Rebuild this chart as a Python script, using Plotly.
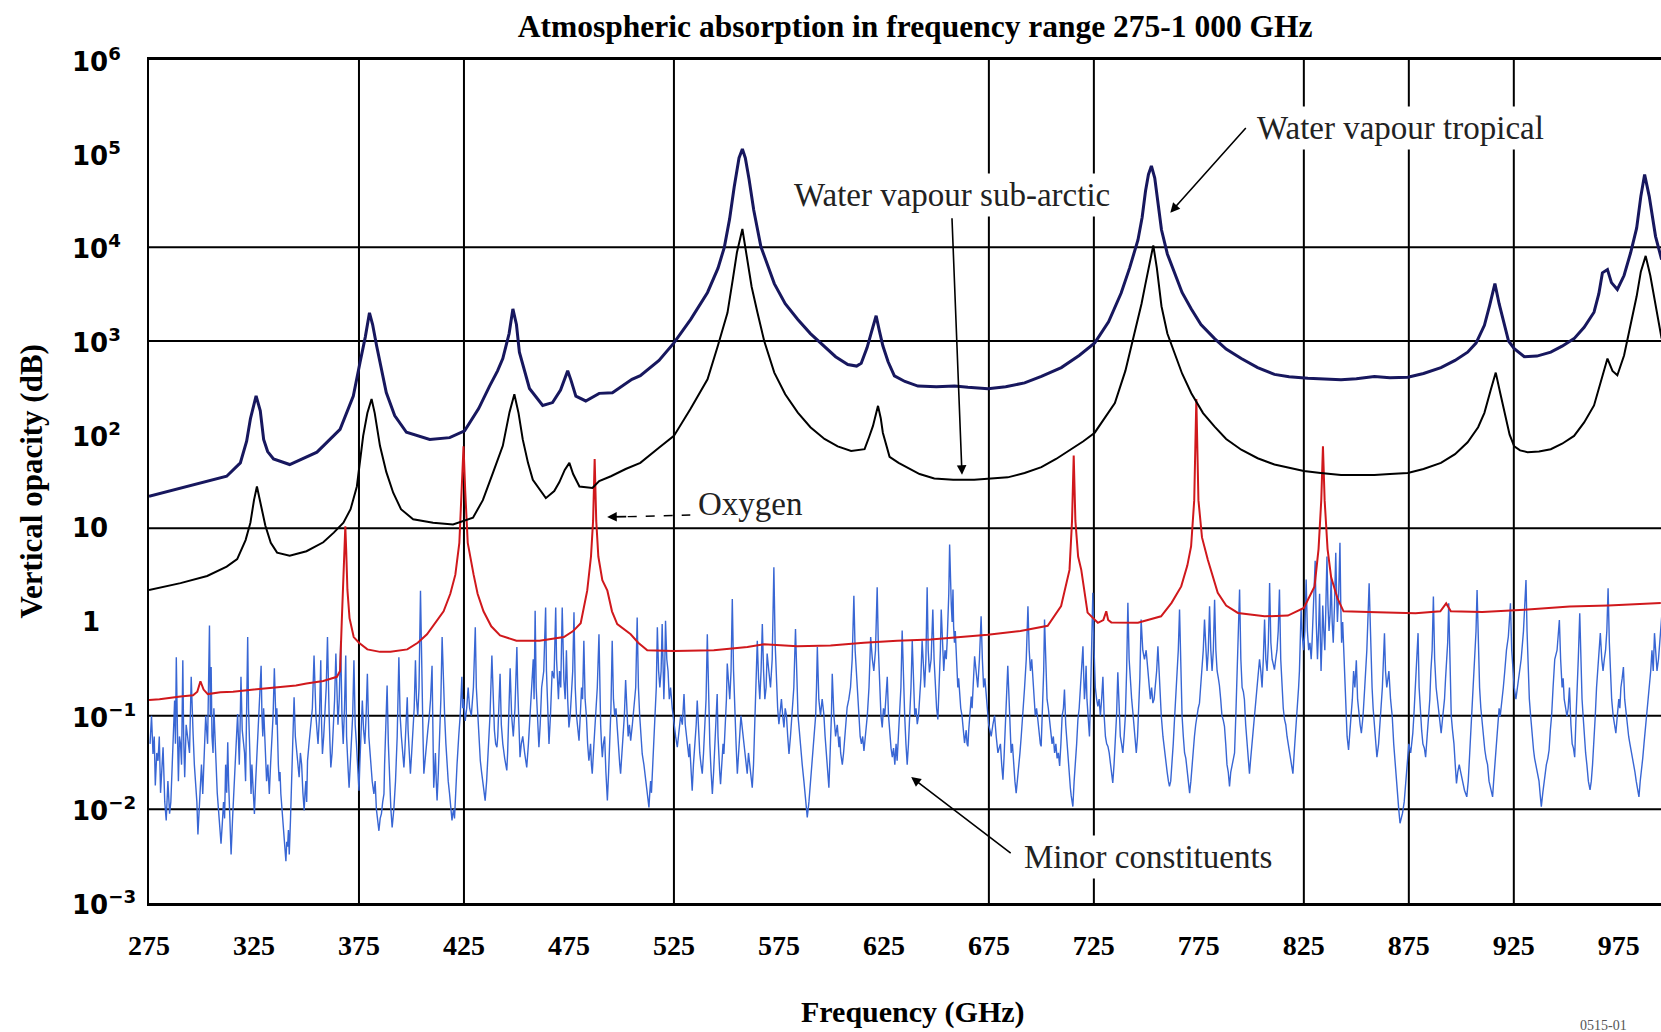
import plotly.graph_objects as go
import math

# ---------------- data ----------------
X_TICKS = [275, 325, 375, 425, 475, 525, 575, 625, 675, 725, 775, 825, 875, 925, 975]
Y_TICKS = [1e-3, 1e-2, 1e-1, 1, 10, 1e2, 1e3, 1e4, 1e5, 1e6]
Y_TICK_TEXT = ["10<sup>−3</sup>", "10<sup>−2</sup>", "10<sup>−1</sup>", "1", "10",
               "10<sup>2</sup>", "10<sup>3</sup>", "10<sup>4</sup>", "10<sup>5</sup>", "10<sup>6</sup>"]
X_GRID = [375, 425, 525, 675, 725, 825, 875, 925]
Y_GRID = [1e4, 1e3, 10, 1e-1, 1e-2]

TROPICAL = [
    (275, 22), (290, 27), (300, 31), (312, 36), (318.5, 50), (321.5, 85), (323.3, 148), (326, 260),
    (328, 180), (329.6, 89), (331.5, 66), (334.3, 55), (342, 48), (355, 65), (366, 114), (372.3, 259),
    (375.5, 590), (378, 1100), (380, 2000), (381.5, 1500), (383.4, 890), (388, 282), (392, 160),
    (397.6, 106), (408.7, 89), (418.2, 93), (425.3, 110), (432, 190), (437.2, 330), (441, 480),
    (443.5, 650), (446.5, 1200), (448.3, 2200), (450, 1500), (451.4, 760), (456.2, 311), (462.5, 205),
    (467.2, 220), (471, 300), (474.4, 480), (476, 380), (478.3, 258), (483, 229), (489.4, 276),
    (495.7, 280), (505, 390), (509, 427), (517.9, 620), (525, 955), (533, 1700), (541, 3300),
    (546, 6000), (549, 10000), (551.5, 20000), (553.7, 44000), (556, 90000), (557.6, 112000),
    (559, 90000), (560.8, 53000), (563, 25000), (566.4, 10200), (572.8, 4100), (578, 2500),
    (584, 1700), (590, 1200), (596.7, 880), (602, 680), (607.8, 560), (612, 540), (614.2, 580),
    (617, 850), (619, 1230), (621.3, 1860), (622.8, 1300), (624.5, 890), (627, 600), (630, 425),
    (635, 370), (641.2, 330), (650, 325), (658.7, 330), (665, 320), (674.6, 310), (683, 325),
    (692, 357), (700, 420), (709.5, 520), (718, 700), (725.4, 955), (732, 1600), (738, 3250),
    (742, 6000), (746, 12000), (748, 21000), (749.6, 40000), (751, 60000), (752.4, 74000),
    (754, 55000), (755.5, 30000), (757.2, 15400), (760, 8500), (763.5, 5350), (767, 3300),
    (771.4, 2200), (776, 1500), (782.5, 1060), (788, 820), (795.2, 650), (803, 520), (811, 440),
    (818, 415), (826.9, 400), (835, 392), (842.7, 385), (850, 395), (858.6, 417), (866, 405),
    (874.5, 410), (882, 450), (890.3, 520), (897, 620), (903, 760), (907, 950), (911, 1470),
    (913.5, 2400), (916, 4100), (918, 2500), (920.4, 1470), (922.5, 1000), (925.2, 830), (930, 680),
    (936, 690), (942.6, 760), (948, 880), (953.7, 1060), (958.5, 1400), (963.2, 2030), (965.5, 3200),
    (967.2, 5350), (969.6, 5800), (971.5, 4200), (974.3, 3550), (977.5, 5000), (980.6, 8700),
    (983.5, 16000), (985.5, 35000), (987.3, 60000), (989.5, 35000), (992.5, 13100), (995.4, 7400),
]

SUBARCTIC = [
    (275, 2.2), (290, 2.6), (302.7, 3.1), (312, 3.9), (317, 4.7), (321, 7.5), (323.3, 11.5), (325, 20),
    (326.4, 28), (328, 19), (330.4, 10.7), (333, 7), (336, 5.5), (342, 5.1), (350, 5.7), (358, 7.1),
    (363, 9), (367.6, 11.5), (371, 16), (374, 28), (377, 97), (379, 170), (381, 240), (382.5, 170),
    (385, 76), (388, 40), (391.3, 24), (395, 16), (400.8, 12.5), (410.3, 11.5), (419.8, 11),
    (429.3, 13), (434, 20), (438.8, 39), (443.5, 76), (446.7, 174), (449, 270), (451, 170), (453, 89),
    (455.5, 50), (457.8, 33), (464, 21), (468, 25), (470.4, 31), (473, 42), (475.2, 50), (477, 38),
    (480, 28), (486.2, 27), (489.4, 32), (495, 36), (502, 43), (509, 50), (518, 73), (525, 97),
    (533, 190), (541, 390), (546, 900), (550.5, 2000), (553, 4500), (555, 8800), (557.6, 15700),
    (560, 7400), (562, 3800), (564.8, 2000), (568, 1000), (572.8, 460), (578, 270), (584, 172),
    (590, 120), (596.7, 90), (603, 75), (609.4, 67), (615.8, 70), (618, 95), (619.8, 124),
    (622.2, 203), (623.5, 150), (624.5, 105), (627.7, 58), (632, 50), (636.5, 44), (642, 38),
    (649, 34), (658, 33), (668, 33), (676, 34), (684, 35), (692, 39), (700, 45), (707, 55), (714, 69),
    (720, 85), (725.4, 105), (730, 150), (735, 218), (740, 480), (744.6, 1240), (747.7, 2500),
    (749.4, 3900), (751.5, 7000), (753.3, 10500), (755, 6000), (757.2, 2350), (760, 1200),
    (763.5, 740), (767, 450), (771.4, 277), (777, 170), (782.5, 122), (788, 90), (795.2, 69),
    (803, 56), (811, 48), (818, 44), (825, 41), (833, 39), (842.7, 37), (850, 37), (858.6, 37),
    (866, 38), (874.5, 39), (882, 43), (890.3, 50), (897, 62), (903, 83), (908, 120), (911, 171),
    (914, 300), (916.4, 460), (918.5, 280), (921.2, 145), (923, 100), (925.2, 75), (928, 68),
    (931.5, 65), (937, 66), (942.6, 70), (948, 80), (953.7, 97), (958.5, 135), (963.2, 205),
    (966, 350), (969.6, 650), (972, 480), (974.3, 430), (977.5, 700), (980.6, 1470), (983.5, 3000),
    (985.5, 5500), (987.8, 8100), (990, 5000), (992.5, 2350), (995.4, 1060),
]

OXYGEN = [
    (275, 0.147), (280, 0.15), (290, 0.16), (296, 0.165), (298, 0.18), (299.5, 0.233), (301, 0.19),
    (303, 0.17), (309, 0.178), (315, 0.18), (325, 0.19), (335, 0.2), (345, 0.21), (350, 0.22),
    (358, 0.235), (364.5, 0.26), (366, 0.3), (366.8, 1.0), (367.6, 2.5), (368.1, 6.0), (368.5, 10.5),
    (368.9, 6.0), (369.5, 2.2), (370.5, 1.1), (372.5, 0.69), (375, 0.6), (379, 0.51), (385, 0.48),
    (390, 0.48), (398, 0.51), (403, 0.6), (407.4, 0.74), (411, 0.95), (415.3, 1.3), (418.5, 2.0),
    (420.9, 3.2), (422.8, 7.0), (424.0, 25), (424.8, 75), (425.6, 25), (426.8, 7.0), (429.6, 3.2),
    (431.5, 2.0), (434.3, 1.3), (438, 0.9), (442.2, 0.72), (450, 0.63), (461, 0.63), (472.6, 0.69),
    (477, 0.8), (480.6, 0.97), (483.7, 2.16), (485.5, 5.0), (486.5, 12), (487.25, 55), (488.0, 12),
    (489, 5.0), (490.9, 2.8), (493.3, 2.16), (495.5, 1.3), (498, 0.95), (504.4, 0.74), (508, 0.6),
    (512.3, 0.5), (525, 0.49), (544, 0.5), (560, 0.54), (567.9, 0.58), (583.7, 0.55), (599.6, 0.56),
    (615.5, 0.6), (631.3, 0.63), (647.2, 0.65), (674.5, 0.73), (690, 0.8), (703, 0.91), (709.4, 1.48),
    (713.4, 3.6), (714.6, 12), (715.4, 60), (716.2, 12), (717.5, 5), (719, 3.6), (722, 1.26),
    (726.9, 0.98), (729.5, 1.05), (730.9, 1.3), (731.8, 1.05), (733.3, 0.99), (746, 0.98), (757, 1.15),
    (762, 1.6), (766.6, 2.4), (769.5, 4.0), (771.3, 6.4), (772.8, 20), (773.8, 240), (774.8, 20),
    (776.5, 8), (779.3, 4.6), (784, 2.05), (788, 1.5), (793.6, 1.25), (806.3, 1.15), (817.4, 1.17),
    (825, 1.41), (830.1, 2.4), (832, 6), (833.3, 20), (834.1, 75), (834.9, 20), (836.3, 6), (838, 3.0),
    (841, 1.8), (843.9, 1.3), (860, 1.27), (878.2, 1.24), (890, 1.3), (892.8, 1.58), (895, 1.3),
    (910, 1.28), (930, 1.35), (951.6, 1.46), (970, 1.5), (990.7, 1.58), (995, 1.6),
]

MINOR = [
    (275.5, 0.05), (276.2, 0.1), (276.9, 0.039), (277.5, 0.06), (278.0, 0.018), (278.7, 0.04), (279.3, 0.033),
    (279.9, 0.06), (280.5, 0.015), (281.1, 0.03), (281.7, 0.046), (282.5, 0.012), (283.2, 0.0076), (284.0, 0.02),
    (284.8, 0.009), (285.4, 0.012), (286.0, 0.03), (286.6, 0.06), (287.2, 0.145), (287.6, 0.05), (288.0, 0.42),
    (288.5, 0.08), (289.0, 0.02), (289.5, 0.06), (290.0, 0.05), (290.5, 0.03), (291.1, 0.39), (291.5, 0.06),
    (292.0, 0.022), (292.7, 0.08), (293.5, 0.06), (294.3, 0.04), (295.1, 0.26), (295.6, 0.1), (296.0, 0.064),
    (296.6, 0.03), (297.2, 0.02), (297.8, 0.012), (298.3, 0.0054), (298.9, 0.009), (299.5, 0.02), (300.0, 0.03),
    (300.6, 0.0146), (301.3, 0.04), (302.0, 0.1), (302.9, 0.05), (303.8, 0.92), (304.2, 0.1), (304.6, 0.33),
    (305.0, 0.06), (305.5, 0.04), (305.9, 0.12), (306.2, 0.075), (306.8, 0.03), (307.5, 0.015), (308.4, 0.008),
    (309.3, 0.0043), (309.9, 0.007), (310.5, 0.012), (311.0, 0.008), (311.5, 0.03), (312.0, 0.015), (312.5, 0.052),
    (312.9, 0.02), (313.3, 0.01), (313.7, 0.006), (314.1, 0.0033), (314.8, 0.008), (315.5, 0.02), (316.3, 0.04),
    (317.2, 0.104), (317.6, 0.05), (318.0, 0.03), (318.4, 0.08), (318.8, 0.26), (319.4, 0.07), (320.0, 0.05),
    (320.5, 0.04), (321.0, 0.02), (321.5, 0.1), (322.0, 0.69), (322.4, 0.12), (322.8, 0.05), (323.2, 0.025),
    (323.6, 0.0146), (324.0, 0.03), (324.5, 0.02), (324.9, 0.012), (325.2, 0.0089), (325.8, 0.02), (326.5, 0.04),
    (327.4, 0.1), (328.4, 0.34), (328.8, 0.1), (329.2, 0.06), (329.6, 0.12), (330.0, 0.075), (330.5, 0.04),
    (331.0, 0.02), (331.6, 0.03), (332.3, 0.0146), (332.9, 0.03), (333.5, 0.06), (334.1, 0.1), (334.7, 0.32),
    (335.1, 0.1), (335.5, 0.08), (335.9, 0.12), (336.2, 0.05), (336.6, 0.03), (337.0, 0.02), (337.4, 0.025),
    (337.8, 0.0146), (338.4, 0.01), (339.0, 0.006), (339.6, 0.004), (340.2, 0.0028), (340.6, 0.0045), (341.0, 0.004),
    (341.4, 0.006), (341.8, 0.0033), (342.4, 0.008), (343.0, 0.02), (343.6, 0.05), (344.1, 0.157), (344.7, 0.06),
    (345.3, 0.04), (345.9, 0.03), (346.5, 0.022), (347.1, 0.04), (347.7, 0.03), (348.3, 0.015), (348.9, 0.0097),
    (349.3, 0.015), (349.7, 0.02), (350.1, 0.012), (350.5, 0.033), (351.2, 0.05), (352.0, 0.08), (352.8, 0.12),
    (353.6, 0.44), (354.0, 0.15), (354.5, 0.1), (355.0, 0.07), (355.5, 0.05), (356.2, 0.1), (356.8, 0.39),
    (357.2, 0.08), (357.6, 0.039), (358.2, 0.06), (358.8, 0.1), (359.4, 0.2), (360.0, 0.69), (360.4, 0.15),
    (360.8, 0.1), (361.2, 0.05), (361.6, 0.028), (362.2, 0.04), (362.8, 0.07), (363.4, 0.15), (364.0, 0.46),
    (364.5, 0.12), (365.0, 0.08), (365.6, 0.15), (366.3, 0.63), (366.9, 0.1), (367.5, 0.05), (368.1, 0.12),
    (368.7, 0.44), (369.1, 0.06), (369.5, 0.03), (369.9, 0.025), (370.3, 0.017), (370.9, 0.03), (371.5, 0.05),
    (372.0, 0.1), (372.6, 0.39), (373.2, 0.08), (373.8, 0.05), (374.4, 0.025), (375.0, 0.0158), (375.4, 0.03),
    (375.8, 0.05), (376.2, 0.08), (376.6, 0.145), (377.2, 0.07), (377.8, 0.05), (378.4, 0.1), (379.0, 0.28),
    (379.7, 0.06), (380.5, 0.03), (381.3, 0.02), (382.1, 0.0146), (382.7, 0.02), (383.3, 0.01), (383.9, 0.008),
    (384.5, 0.0059), (385.1, 0.008), (385.7, 0.009), (386.3, 0.012), (386.9, 0.0146), (387.2, 0.03), (387.6, 0.05),
    (388.0, 0.1), (388.4, 0.21), (389.0, 0.05), (389.6, 0.02), (390.2, 0.01), (390.8, 0.0064), (391.6, 0.01),
    (392.4, 0.02), (393.2, 0.06), (394.0, 0.42), (394.6, 0.1), (395.2, 0.06), (395.8, 0.04), (396.4, 0.028),
    (396.8, 0.04), (397.2, 0.06), (397.6, 0.09), (398.0, 0.157), (398.4, 0.07), (398.8, 0.05), (399.2, 0.03),
    (399.5, 0.024), (400.1, 0.04), (400.7, 0.08), (401.3, 0.12), (401.9, 0.39), (402.4, 0.15), (403.0, 0.1),
    (403.6, 0.2), (404.3, 2.16), (404.7, 0.5), (405.1, 0.2), (405.5, 0.06), (405.9, 0.024), (406.5, 0.035),
    (407.0, 0.05), (407.8, 0.07), (408.5, 0.1), (409.1, 0.15), (409.8, 0.34), (410.2, 0.05), (410.6, 0.017),
    (411.0, 0.025), (411.4, 0.04), (411.8, 0.02), (412.2, 0.0124), (412.8, 0.025), (413.4, 0.06), (414.0, 0.15),
    (414.6, 0.69), (415.2, 0.2), (415.8, 0.1), (416.4, 0.05), (416.9, 0.028), (417.5, 0.02), (418.1, 0.015),
    (418.7, 0.01), (419.3, 0.0076), (419.7, 0.009), (420.1, 0.01), (420.5, 0.008), (420.9, 0.0146), (421.7, 0.03),
    (422.5, 0.06), (423.2, 0.1), (424.0, 0.26), (424.4, 0.12), (424.8, 0.15), (425.2, 0.1), (425.6, 0.088),
    (426.3, 0.12), (427.0, 0.2), (427.7, 0.12), (428.5, 0.1), (429.5, 0.2), (430.4, 0.88), (430.9, 0.2),
    (431.5, 0.1), (432.1, 0.05), (432.8, 0.033), (433.4, 0.025), (434.0, 0.02), (434.6, 0.015), (435.1, 0.0124),
    (435.8, 0.02), (436.5, 0.04), (437.4, 0.1), (438.3, 0.44), (438.9, 0.12), (439.5, 0.07), (440.1, 0.05),
    (440.7, 0.046), (441.1, 0.06), (441.5, 0.1), (441.9, 0.15), (442.2, 0.28), (442.8, 0.08), (443.5, 0.05),
    (444.4, 0.035), (445.4, 0.026), (445.8, 0.04), (446.2, 0.08), (446.6, 0.12), (447.0, 0.32), (447.7, 0.1),
    (448.5, 0.06), (449.3, 0.12), (450.2, 0.54), (450.6, 0.2), (451.0, 0.1), (451.4, 0.05), (451.7, 0.036),
    (452.3, 0.05), (453.0, 0.06), (453.9, 0.04), (454.9, 0.028), (455.7, 0.05), (456.5, 0.1), (457.2, 0.2),
    (458.0, 0.4), (458.4, 0.15), (458.9, 1.32), (459.4, 0.2), (460.0, 0.1), (460.3, 0.06), (460.7, 0.046),
    (461.3, 0.08), (462.0, 0.2), (463.0, 0.3), (463.9, 1.43), (464.3, 0.3), (464.7, 0.15), (465.1, 0.08),
    (465.5, 0.05), (466.2, 0.1), (467.0, 0.3), (467.9, 0.25), (468.7, 1.43), (469.1, 0.4), (469.5, 0.2),
    (470.0, 0.15), (470.5, 0.3), (471.1, 0.2), (471.8, 1.43), (472.2, 0.4), (472.6, 0.24), (473.2, 0.15),
    (473.8, 0.5), (474.4, 0.15), (475.0, 0.075), (475.6, 0.1), (476.2, 0.2), (476.8, 0.3), (477.4, 1.27),
    (478.0, 0.2), (478.6, 0.1), (479.2, 0.07), (479.8, 0.054), (480.4, 0.1), (481.0, 0.2), (481.5, 0.15),
    (482.1, 0.63), (482.7, 0.15), (483.3, 0.1), (483.9, 0.05), (484.5, 0.033), (484.9, 0.04), (485.3, 0.05),
    (485.7, 0.03), (486.1, 0.024), (486.9, 0.05), (487.7, 0.1), (488.5, 0.2), (489.3, 0.74), (489.7, 0.15),
    (490.1, 0.08), (490.5, 0.05), (490.9, 0.036), (491.4, 0.05), (492.0, 0.06), (492.6, 0.025), (493.3, 0.0124),
    (493.9, 0.025), (494.5, 0.05), (495.0, 0.12), (495.6, 0.63), (496.2, 0.15), (496.8, 0.1), (497.4, 0.12),
    (498.0, 0.075), (498.4, 0.05), (498.8, 0.04), (499.2, 0.03), (499.6, 0.024), (500.2, 0.04), (500.8, 0.06),
    (501.4, 0.1), (502.0, 0.24), (502.6, 0.1), (503.2, 0.06), (503.8, 0.08), (504.4, 0.054), (505.2, 0.08),
    (506.0, 0.12), (506.8, 0.2), (507.5, 1.12), (508.1, 0.2), (508.7, 0.1), (509.3, 0.06), (509.9, 0.039),
    (510.7, 0.03), (511.5, 0.02), (512.3, 0.015), (513.1, 0.0105), (513.5, 0.015), (513.9, 0.02), (514.3, 0.015),
    (514.7, 0.024), (515.3, 0.05), (516.0, 0.1), (516.6, 0.2), (517.1, 0.88), (517.7, 0.3), (518.3, 0.2),
    (518.9, 0.3), (519.4, 0.95), (519.8, 0.3), (520.2, 0.15), (520.6, 0.3), (521.0, 1.03), (521.6, 0.4),
    (522.2, 0.3), (522.8, 0.15), (523.4, 0.2), (524.2, 0.12), (525.0, 0.08), (525.8, 0.06), (526.6, 0.046),
    (527.4, 0.07), (528.2, 0.1), (529.0, 0.08), (529.8, 0.17), (530.4, 0.08), (531.0, 0.06), (531.6, 0.045),
    (532.1, 0.036), (532.5, 0.05), (532.9, 0.03), (533.3, 0.02), (533.7, 0.0158), (534.3, 0.03), (535.0, 0.05),
    (535.6, 0.08), (536.1, 0.145), (536.7, 0.07), (537.3, 0.04), (537.9, 0.03), (538.5, 0.024), (539.1, 0.04),
    (539.7, 0.08), (540.3, 0.15), (540.9, 0.74), (541.5, 0.12), (542.1, 0.05), (542.7, 0.025), (543.3, 0.0146),
    (543.9, 0.025), (544.5, 0.05), (545.0, 0.08), (545.6, 0.17), (546.0, 0.06), (546.4, 0.03), (546.8, 0.025),
    (547.2, 0.0186), (547.6, 0.025), (548.0, 0.03), (548.4, 0.05), (548.8, 0.039), (549.2, 0.06), (549.6, 0.1),
    (550.0, 0.15), (550.4, 0.36), (551.0, 0.2), (551.6, 0.15), (552.2, 0.3), (552.8, 1.76), (553.4, 0.3),
    (554.0, 0.1), (554.6, 0.05), (555.2, 0.024), (555.8, 0.035), (556.3, 0.06), (556.9, 0.1), (557.5, 0.075),
    (558.1, 0.05), (558.7, 0.04), (559.3, 0.03), (559.9, 0.024), (560.5, 0.04), (561.1, 0.03), (561.7, 0.025),
    (562.3, 0.017), (562.9, 0.03), (563.5, 0.08), (564.1, 0.15), (564.7, 0.63), (565.3, 0.25), (565.9, 0.15),
    (566.5, 0.3), (567.1, 0.95), (567.7, 0.3), (568.3, 0.15), (568.9, 0.2), (569.4, 0.46), (570.2, 0.3),
    (571.0, 0.2), (571.8, 0.4), (572.6, 3.85), (573.2, 0.6), (573.8, 0.2), (574.4, 0.12), (575.0, 0.081),
    (575.6, 0.12), (576.2, 0.15), (576.8, 0.1), (577.4, 0.075), (578.0, 0.12), (578.6, 0.1), (579.2, 0.06),
    (579.8, 0.039), (580.5, 0.06), (581.3, 0.1), (582.1, 0.2), (582.9, 0.84), (583.5, 0.2), (584.1, 0.1),
    (584.7, 0.07), (585.3, 0.046), (586.1, 0.03), (586.9, 0.02), (587.7, 0.012), (588.5, 0.0082), (589.3, 0.012),
    (590.1, 0.02), (590.9, 0.035), (591.7, 0.054), (592.1, 0.08), (592.5, 0.1), (592.9, 0.2), (593.3, 0.54),
    (594.0, 0.15), (594.8, 0.1), (595.6, 0.15), (596.4, 0.104), (597.0, 0.06), (597.6, 0.04), (598.2, 0.025),
    (598.8, 0.017), (599.2, 0.03), (599.6, 0.05), (600.0, 0.1), (600.4, 0.28), (601.2, 0.1), (602.0, 0.06),
    (602.8, 0.08), (603.6, 0.046), (604.0, 0.06), (604.4, 0.04), (604.8, 0.035), (605.2, 0.030), (605.8, 0.04),
    (606.3, 0.06), (606.9, 0.09), (607.5, 0.123), (608.3, 0.15), (609.1, 0.2), (609.9, 0.4), (610.7, 1.91),
    (611.3, 0.5), (611.9, 0.3), (612.5, 0.15), (613.1, 0.088), (613.7, 0.06), (614.3, 0.05), (614.9, 0.06),
    (615.5, 0.042), (616.3, 0.06), (617.1, 0.1), (617.9, 0.2), (618.7, 0.69), (619.5, 0.4), (620.2, 0.3),
    (621.0, 0.5), (621.8, 2.35), (622.4, 0.5), (623.0, 0.2), (623.6, 0.1), (624.2, 0.075), (624.8, 0.12),
    (625.4, 0.1), (626.0, 0.15), (626.6, 0.26), (627.2, 0.1), (627.8, 0.06), (628.4, 0.045), (629.0, 0.036),
    (629.6, 0.045), (630.2, 0.03), (630.8, 0.05), (631.3, 0.033), (631.9, 0.06), (632.5, 0.1), (633.1, 0.2),
    (633.7, 0.81), (634.3, 0.2), (634.9, 0.1), (635.5, 0.05), (636.1, 0.030), (636.7, 0.05), (637.3, 0.1),
    (637.9, 0.2), (638.5, 0.63), (639.1, 0.2), (639.7, 0.1), (640.3, 0.12), (640.9, 0.081), (641.5, 0.1),
    (642.0, 0.15), (642.6, 0.25), (643.2, 0.63), (643.8, 0.3), (644.4, 0.2), (645.0, 0.4), (645.6, 2.35),
    (646.1, 0.5), (646.7, 0.29), (647.5, 0.4), (648.3, 1.36), (648.9, 0.4), (649.5, 0.2), (650.1, 0.12),
    (650.7, 0.091), (651.1, 0.15), (651.5, 0.3), (651.9, 0.5), (652.3, 1.36), (652.9, 0.5), (653.5, 0.3),
    (654.1, 0.5), (654.7, 0.4), (655.1, 0.6), (655.5, 1.0), (655.9, 2.0), (656.3, 6.7), (656.7, 2.0),
    (657.1, 1.5), (657.5, 1.0), (657.9, 2.22), (658.2, 0.9), (658.6, 0.6), (659.0, 0.8), (659.4, 0.47),
    (659.8, 0.3), (660.2, 0.2), (660.6, 0.25), (661.0, 0.16), (661.6, 0.12), (662.2, 0.1), (662.8, 0.07),
    (663.4, 0.051), (663.8, 0.06), (664.2, 0.07), (664.6, 0.05), (665.0, 0.047), (665.4, 0.07), (665.8, 0.1),
    (666.2, 0.12), (666.6, 0.16), (667.0, 0.12), (667.4, 0.2), (667.8, 0.25), (668.2, 0.43), (668.9, 0.3),
    (669.7, 0.2), (670.5, 0.4), (671.3, 1.15), (671.9, 0.4), (672.5, 0.2), (673.1, 0.25), (673.7, 0.16),
    (674.3, 0.12), (674.9, 0.08), (675.5, 0.07), (676.1, 0.06), (676.9, 0.08), (677.7, 0.1), (678.5, 0.06),
    (679.3, 0.040), (679.9, 0.045), (680.5, 0.05), (681.1, 0.03), (681.7, 0.0207), (682.2, 0.035), (682.8, 0.08),
    (683.4, 0.15), (684.0, 0.34), (684.4, 0.2), (684.8, 0.1), (685.2, 0.06), (685.6, 0.040), (686.2, 0.05),
    (686.8, 0.03), (687.4, 0.02), (688.0, 0.0149), (688.6, 0.02), (689.2, 0.03), (689.8, 0.04), (690.4, 0.06),
    (691.2, 0.1), (692.0, 0.2), (692.8, 0.4), (693.6, 1.47), (694.2, 0.5), (694.8, 0.3), (695.4, 0.4),
    (696.0, 0.21), (696.6, 0.15), (697.1, 0.1), (697.7, 0.12), (698.3, 0.091), (698.7, 0.07), (699.1, 0.06),
    (699.5, 0.05), (699.9, 0.047), (700.3, 0.08), (700.7, 0.15), (701.1, 0.3), (701.5, 1.06), (702.1, 0.3),
    (702.7, 0.15), (703.3, 0.12), (703.9, 0.091), (704.5, 0.07), (705.1, 0.05), (705.7, 0.06), (706.3, 0.040),
    (706.9, 0.05), (707.5, 0.035), (708.1, 0.04), (708.7, 0.029), (709.3, 0.05), (709.9, 0.1), (710.5, 0.12),
    (711.0, 0.19), (711.6, 0.08), (712.2, 0.05), (712.8, 0.03), (713.4, 0.0207), (713.8, 0.017), (714.2, 0.014),
    (714.6, 0.012), (715.0, 0.0107), (715.6, 0.02), (716.2, 0.03), (716.8, 0.05), (717.4, 0.091), (718.0, 0.12),
    (718.6, 0.2), (719.2, 0.3), (719.8, 0.55), (720.2, 0.25), (720.5, 0.15), (720.9, 0.2), (721.3, 0.34),
    (721.7, 0.15), (722.1, 0.1), (722.5, 0.08), (722.9, 0.060), (723.3, 0.12), (723.7, 0.3), (724.1, 0.6),
    (724.5, 2.05), (725.1, 0.5), (725.7, 0.2), (726.3, 0.15), (726.9, 0.126), (727.5, 0.15), (728.1, 0.1),
    (728.7, 0.15), (729.3, 0.26), (729.9, 0.1), (730.5, 0.06), (731.1, 0.05), (731.7, 0.047), (732.3, 0.04),
    (732.9, 0.03), (733.5, 0.025), (734.0, 0.0191), (734.6, 0.03), (735.2, 0.05), (735.8, 0.1), (736.4, 0.29),
    (737.0, 0.1), (737.6, 0.06), (738.2, 0.05), (738.8, 0.040), (739.4, 0.06), (740.0, 0.1), (740.6, 0.3),
    (741.2, 1.6), (741.8, 0.4), (742.4, 0.2), (743.0, 0.15), (743.6, 0.107), (744.0, 0.08), (744.4, 0.06),
    (744.8, 0.05), (745.2, 0.040), (745.8, 0.06), (746.3, 0.1), (746.9, 0.25), (747.5, 1.06), (748.3, 0.5),
    (749.1, 0.4), (749.9, 0.5), (750.7, 0.31), (751.3, 0.2), (751.9, 0.15), (752.5, 0.2), (753.1, 0.136),
    (753.7, 0.15), (754.3, 0.2), (754.9, 0.3), (755.5, 0.55), (756.3, 0.2), (757.1, 0.1), (757.9, 0.06),
    (758.7, 0.040), (759.3, 0.03), (759.9, 0.025), (760.5, 0.02), (761.0, 0.0176), (761.6, 0.02), (762.2, 0.03),
    (762.8, 0.05), (763.4, 0.091), (764.0, 0.15), (764.6, 0.3), (765.2, 0.5), (765.8, 1.36), (766.4, 0.3),
    (767.0, 0.1), (767.6, 0.06), (768.2, 0.040), (768.8, 0.035), (769.4, 0.025), (770.0, 0.02), (770.6, 0.0149),
    (771.2, 0.02), (771.7, 0.03), (772.3, 0.04), (772.9, 0.060), (773.5, 0.08), (774.1, 0.1), (774.7, 0.12),
    (775.3, 0.136), (775.9, 0.2), (776.5, 0.3), (777.1, 0.5), (777.7, 1.06), (778.3, 0.5), (778.9, 0.3),
    (779.5, 0.5), (780.1, 1.47), (780.7, 0.5), (781.3, 0.3), (781.9, 0.5), (782.5, 1.73), (783.1, 0.5),
    (783.7, 0.3), (784.3, 0.25), (784.8, 0.21), (785.4, 0.15), (786.0, 0.1), (786.6, 0.09), (787.2, 0.077),
    (787.8, 0.05), (788.4, 0.03), (789.0, 0.025), (789.6, 0.0176), (790.2, 0.025), (790.8, 0.03), (791.4, 0.035),
    (792.0, 0.040), (792.6, 0.1), (793.2, 0.3), (793.8, 0.6), (794.4, 2.22), (795.0, 0.4), (795.6, 0.2),
    (796.2, 0.18), (796.7, 0.148), (797.3, 0.08), (797.9, 0.05), (798.5, 0.035), (799.1, 0.024), (799.7, 0.035),
    (800.3, 0.05), (800.9, 0.07), (801.5, 0.091), (802.1, 0.12), (802.7, 0.2), (803.3, 0.3), (803.9, 0.4),
    (804.5, 0.3), (805.1, 0.2), (805.7, 0.4), (806.3, 1.06), (806.9, 0.4), (807.5, 0.3), (808.1, 0.6),
    (808.7, 2.61), (809.3, 0.6), (809.9, 0.4), (810.5, 0.35), (811.0, 0.31), (811.6, 0.4), (812.2, 0.5),
    (812.8, 0.8), (813.4, 2.22), (814.0, 0.4), (814.6, 0.2), (815.2, 0.12), (815.8, 0.091), (816.4, 0.08),
    (817.0, 0.06), (817.6, 0.05), (818.2, 0.040), (818.6, 0.035), (819.0, 0.03), (819.4, 0.027), (819.8, 0.024),
    (820.4, 0.04), (821.0, 0.06), (821.6, 0.1), (822.1, 0.136), (822.5, 0.2), (822.9, 0.3), (823.3, 0.6),
    (823.7, 1.36), (824.3, 0.7), (824.9, 0.5), (825.5, 0.8), (826.1, 2.84), (826.7, 0.8), (827.3, 0.5),
    (827.9, 0.6), (828.5, 0.4), (828.9, 0.6), (829.3, 1.06), (829.9, 2.0), (830.4, 4.5), (830.9, 1.0),
    (831.5, 0.4), (832.0, 0.8), (832.5, 2.0), (832.9, 0.6), (833.2, 0.3), (833.6, 0.6), (834.0, 1.5),
    (834.5, 0.8), (835.0, 0.5), (835.5, 1.5), (836.0, 5.0), (836.5, 1.5), (837.0, 0.8), (837.5, 1.2),
    (838.0, 3.0), (838.5, 1.0), (839.0, 0.6), (839.6, 1.5), (840.2, 5.5), (840.6, 2.0), (841.0, 1.0),
    (841.6, 2.0), (842.2, 7.0), (842.6, 1.5), (843.0, 0.6), (843.5, 1.0), (844.0, 0.5), (844.5, 0.2),
    (845.0, 0.1), (845.6, 0.06), (846.3, 0.043), (846.9, 0.06), (847.5, 0.1), (848.1, 0.15), (848.7, 0.3),
    (849.3, 0.2), (850.0, 0.39), (850.6, 0.15), (851.2, 0.1), (851.8, 0.08), (852.4, 0.065), (853.2, 0.1),
    (854.0, 0.2), (855.0, 0.5), (856.1, 2.59), (856.8, 0.5), (857.5, 0.2), (858.0, 0.12), (858.5, 0.08),
    (859.2, 0.05), (859.8, 0.036), (860.6, 0.05), (861.5, 0.1), (862.4, 0.2), (863.4, 0.76), (863.9, 0.3),
    (864.5, 0.2), (865.0, 0.25), (865.5, 0.3), (866.3, 0.15), (867.1, 0.098), (867.8, 0.05), (868.5, 0.03),
    (869.0, 0.02), (869.6, 0.015), (870.2, 0.01), (870.8, 0.0071), (871.4, 0.008), (872.0, 0.0091), (872.8, 0.012),
    (873.5, 0.02), (874.2, 0.035), (875.0, 0.05), (875.9, 0.04), (876.9, 0.065), (877.4, 0.1), (878.0, 0.2),
    (878.7, 0.3), (879.4, 0.76), (879.9, 0.2), (880.5, 0.1), (881.1, 0.07), (881.7, 0.05), (882.4, 0.045),
    (883.0, 0.036), (883.7, 0.06), (884.5, 0.1), (885.0, 0.15), (885.5, 0.3), (886.1, 0.5), (886.7, 1.87),
    (887.3, 0.4), (888.0, 0.2), (888.6, 0.15), (889.2, 0.1), (889.8, 0.08), (890.4, 0.065), (891.2, 0.1),
    (892.0, 0.15), (892.5, 0.25), (893.0, 0.4), (893.5, 0.6), (894.0, 1.58), (894.6, 0.3), (895.2, 0.1),
    (895.8, 0.07), (896.5, 0.05), (897.1, 0.03), (897.7, 0.0189), (898.3, 0.025), (899.0, 0.03), (899.7, 0.025),
    (900.5, 0.02), (901.5, 0.016), (902.6, 0.0136), (903.3, 0.02), (904.0, 0.04), (904.7, 0.08), (905.5, 0.15),
    (906.0, 0.25), (906.5, 0.4), (907.0, 0.8), (907.5, 2.2), (908.1, 0.5), (908.7, 0.2), (909.3, 0.12),
    (910.0, 0.08), (910.6, 0.06), (911.2, 0.043), (911.8, 0.035), (912.5, 0.03), (913.2, 0.02), (914.0, 0.016),
    (914.5, 0.015), (914.9, 0.0136), (915.4, 0.02), (916.0, 0.03), (916.7, 0.05), (917.5, 0.08), (918.0, 0.12),
    (918.5, 0.098), (919.2, 0.15), (920.0, 0.2), (920.7, 0.3), (921.5, 0.5), (922.4, 0.7), (923.4, 1.58),
    (924.0, 0.5), (924.5, 0.3), (925.2, 0.2), (926.0, 0.15), (926.5, 0.18), (927.1, 0.22), (927.8, 0.3),
    (928.5, 0.4), (929.6, 0.8), (930.8, 2.81), (931.3, 0.8), (931.8, 0.3), (932.4, 0.15), (933.0, 0.1),
    (933.7, 0.06), (934.4, 0.043), (934.9, 0.035), (935.5, 0.03), (936.3, 0.025), (937.0, 0.02), (937.6, 0.014),
    (938.1, 0.0107), (938.8, 0.015), (939.5, 0.02), (940.0, 0.025), (940.5, 0.03), (941.2, 0.035), (941.8, 0.043),
    (942.4, 0.07), (943.0, 0.1), (943.7, 0.2), (944.5, 0.4), (945.6, 0.5), (946.7, 1.05), (947.3, 0.4),
    (948.0, 0.2), (948.5, 0.25), (949.0, 0.15), (949.7, 0.12), (950.3, 0.098), (950.9, 0.12), (951.5, 0.2),
    (952.2, 0.08), (952.8, 0.05), (953.4, 0.045), (954.0, 0.036), (954.5, 0.08), (955.0, 0.2), (955.7, 0.4),
    (956.4, 1.24), (957.0, 0.3), (957.5, 0.15), (958.0, 0.1), (958.5, 0.06), (959.2, 0.04), (959.8, 0.03),
    (960.5, 0.02), (961.3, 0.0161), (961.9, 0.02), (962.5, 0.03), (963.2, 0.05), (963.8, 0.1), (964.4, 0.2),
    (965.0, 0.3), (965.6, 0.4), (966.2, 0.76), (966.9, 0.4), (967.5, 0.3), (968.1, 0.4), (968.7, 0.5),
    (969.3, 0.8), (969.9, 2.29), (970.5, 0.6), (971.0, 0.3), (971.6, 0.15), (972.3, 0.1), (973.0, 0.08),
    (973.6, 0.065), (974.3, 0.1), (975.0, 0.15), (975.5, 0.12), (976.0, 0.2), (976.6, 0.25), (977.2, 0.33),
    (977.8, 0.15), (978.5, 0.1), (979.1, 0.08), (979.7, 0.06), (980.3, 0.05), (980.9, 0.043), (981.5, 0.035),
    (982.0, 0.03), (982.7, 0.025), (983.3, 0.02), (984.0, 0.016), (984.6, 0.0136), (985.2, 0.02), (985.8, 0.025),
    (986.4, 0.035), (987.0, 0.05), (987.6, 0.07), (988.3, 0.098), (988.9, 0.15), (989.5, 0.2), (990.2, 0.3),
    (990.8, 0.5), (991.4, 0.3), (992.0, 0.76), (992.6, 0.4), (993.2, 0.3), (993.9, 0.4), (994.5, 0.6),
    (995.5, 1.2),
]

# call-out labels: (text, GHz, value, anchor)
LABELS = [
    ("Water vapour tropical", 801.0, 10 ** 5.278, "left"),
    ("Water vapour sub-arctic", 657.5, 10 ** 4.562, "center"),
    ("Oxygen", 561.1, 10 ** 1.261, "center"),
    ("Minor constituents", 750.9, 10 ** -2.511, "center"),
]
# leader arrows: (head GHz, head value, tail GHz, tail value)
ARROWS = [
    (761.4, 10 ** 4.37, 798.0, 10 ** 5.29),
    (662.2, 10 ** 1.571, 657.4, 10 ** 4.327),
    (493.2, 10 ** 1.122, 503.0, 10 ** 1.125),
    (638.0, 10 ** -1.656, 686.1, 10 ** -2.479),
]
OXYGEN_DASH = (503.0, 10 ** 1.125, 532.8, 10 ** 1.143)


def unzip(pairs):
    return [p[0] for p in pairs], [p[1] for p in pairs]


SERIF = "Liberation Serif"
Y_LOG_MIN, Y_LOG_MAX = -3, 6

fig = go.Figure()

mx, my = unzip(MINOR)
fig.add_trace(go.Scatter(x=mx, y=my, mode="lines", line=dict(color="#3866d4", width=1.4),
                         hoverinfo="skip", name="Minor constituents"))
ox, oy = unzip(OXYGEN)
fig.add_trace(go.Scatter(x=ox, y=oy, mode="lines", line=dict(color="#d0181c", width=2),
                         hoverinfo="skip", name="Oxygen"))
sx, sy = unzip(SUBARCTIC)
fig.add_trace(go.Scatter(x=sx, y=sy, mode="lines", line=dict(color="#000000", width=2),
                         hoverinfo="skip", name="Water vapour sub-arctic"))
tx, ty = unzip(TROPICAL)
fig.add_trace(go.Scatter(x=tx, y=ty, mode="lines", line=dict(color="#17175e", width=3),
                         hoverinfo="skip", name="Water vapour tropical"))


def ydom(v):
    return (math.log10(v) - Y_LOG_MIN) / (Y_LOG_MAX - Y_LOG_MIN)


shapes = []
for g in X_GRID:
    shapes.append(dict(type="line", xref="x", yref="y domain", x0=g, x1=g, y0=0, y1=1,
                       line=dict(color="black", width=2), layer="below"))
for g in Y_GRID:
    shapes.append(dict(type="line", xref="x domain", yref="y domain", x0=0, x1=1,
                       y0=ydom(g), y1=ydom(g), line=dict(color="black", width=2), layer="below"))
# dashed part of the oxygen leader
shapes.append(dict(type="line", xref="x", yref="y domain", x0=OXYGEN_DASH[0], x1=OXYGEN_DASH[2],
                   y0=ydom(OXYGEN_DASH[1]), y1=ydom(OXYGEN_DASH[3]),
                   line=dict(color="black", width=1.5, dash="dash")))

annotations = []
for text, f, v, anchor in LABELS:
    annotations.append(dict(text=text, x=f, y=math.log10(v), xref="x", yref="y", showarrow=False,
                            xanchor=anchor, yanchor="middle", bgcolor="white", borderpad=3,
                            font=dict(family=SERIF, size=33, color="#222222")))
for hf, hv, tf, tv in ARROWS:
    annotations.append(dict(text="", x=hf, y=math.log10(hv), ax=tf, ay=math.log10(tv),
                            xref="x", yref="y", axref="x", ayref="y", showarrow=True,
                            arrowhead=2, arrowsize=1.2, arrowwidth=1.6, arrowcolor="black"))
# y tick labels, laid out as in the reference
for v, t in zip(Y_TICKS, Y_TICK_TEXT):
    single = (t == "1")
    annotations.append(dict(text=t, x=-0.0384 if single else -0.0523, y=math.log10(v),
                            xref="paper", yref="y", showarrow=False,
                            xanchor="center" if single else "left", yanchor="middle",
                            font=dict(family="DejaVu Sans", size=26, color="black", weight="bold")))
# axis titles
annotations.append(dict(text="Vertical opacity (dB)", x=-0.0774, y=0.5, xref="paper", yref="paper",
                        showarrow=False, textangle=-90, xanchor="center", yanchor="middle",
                        font=dict(family=SERIF, size=31, color="black", weight="bold")))
annotations.append(dict(text="Frequency (GHz)", x=0.5053, y=-0.1294, xref="paper", yref="paper",
                        showarrow=False, xanchor="center", yanchor="middle",
                        font=dict(family=SERIF, size=30, color="black", weight="bold")))
annotations.append(dict(text="0515-01", x=0.945, y=-0.1448, xref="paper", yref="paper",
                        showarrow=False, xanchor="left", yanchor="middle",
                        font=dict(family=SERIF, size=14, color="#555555")))

fig.update_layout(
    width=1661, height=1032,
    margin=dict(l=149, r=0, t=60, b=129, pad=0),
    paper_bgcolor="white", plot_bgcolor="white",
    showlegend=False,
    title=dict(text="Atmospheric absorption in frequency range 275-1 000 GHz",
               x=0.551, xanchor="center", y=1 - 26 / 1032, yanchor="middle",
               font=dict(family=SERIF, size=31.5, color="black", weight="bold")),
    xaxis=dict(range=[275, 995.1], tickvals=X_TICKS, ticktext=[str(t) for t in X_TICKS],
               showgrid=False, zeroline=False, showline=True, linecolor="black", linewidth=3,
               mirror=True, ticks="", ticklabelstandoff=15,
               tickfont=dict(family=SERIF, size=28, color="black", weight="bold")),
    yaxis=dict(type="log", range=[Y_LOG_MIN, Y_LOG_MAX], showgrid=False, zeroline=False,
               showline=True, linecolor="black", linewidth=2, mirror=False, ticks="",
               showticklabels=False),
    shapes=shapes,
    annotations=annotations,
)

fig.write_html("out.html", config={"displayModeBar": False},
               post_script="document.body.style.margin='0px';document.body.style.padding='0px';")
